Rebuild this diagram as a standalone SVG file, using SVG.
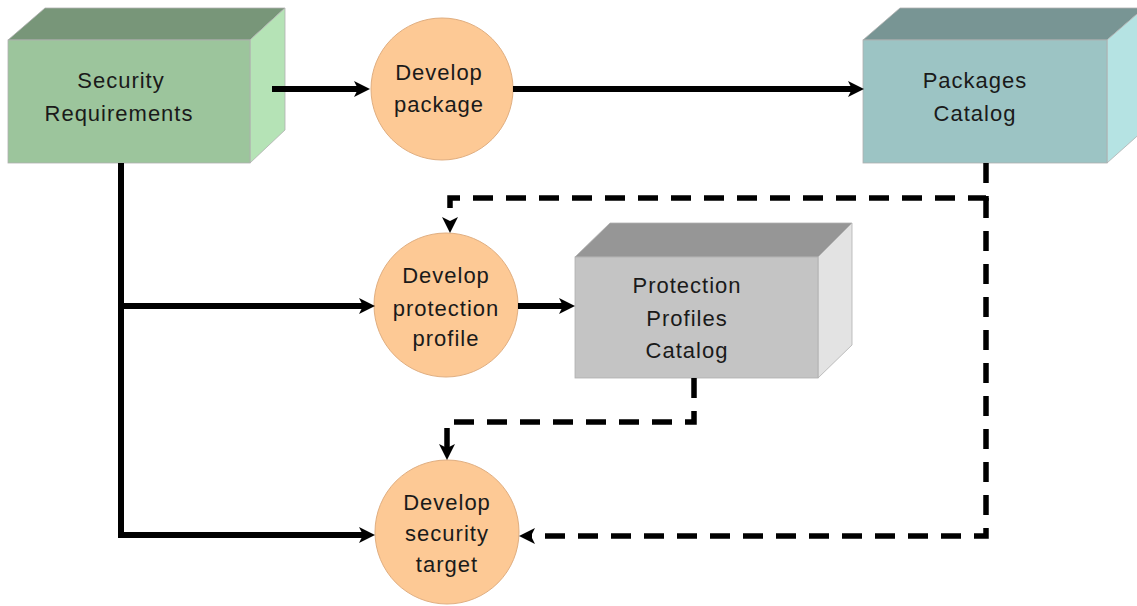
<svg xmlns="http://www.w3.org/2000/svg" width="1137" height="606" viewBox="0 0 1137 606">
  <style>
    .label { font-family: "Liberation Sans", Arial, sans-serif; font-size: 22px; fill: #1a1a1a; text-anchor: middle; letter-spacing: 1px; }
    .proc { fill: #FDC995; stroke: #E0AE80; stroke-width: 1; }
    .edge { fill: none; stroke: #000; stroke-width: 6; }
    .dash { stroke-width: 5.5; stroke-dasharray: 20 13; }
    .face { stroke: #b0b0b0; stroke-width: 0.8; }
  </style>
  <defs>
    <marker id="arrow" markerUnits="userSpaceOnUse" markerWidth="17" markerHeight="17" refX="7" refY="8" orient="auto">
      <path d="M0,0 L16,8 L0,16 L4,8 z" fill="#000"/>
    </marker>
  </defs>

  <rect width="1137" height="606" fill="#fff"/>

  <!-- Security Requirements store -->
  <g id="security-requirements">
    <polygon class="face" points="8,40 45,8 285,8 250,40" fill="#789679"/>
    <polygon class="face" points="250,40 285,8 285,130 250,163" fill="#B5E3B6"/>
    <rect class="face" x="8" y="40" width="242" height="123" fill="#9CC59C"/>
    <text class="label" x="121" y="88">Security</text>
    <text class="label" x="119" y="121">Requirements</text>
  </g>

  <!-- Packages Catalog store -->
  <g id="packages-catalog">
    <polygon class="face" points="863,40 900,8 1144,8 1107,40" fill="#789594"/>
    <polygon class="face" points="1107,40 1144,8 1144,130 1107,163" fill="#B5E3E3"/>
    <rect class="face" x="863" y="40" width="244" height="123" fill="#9CC4C4"/>
    <text class="label" x="975" y="88">Packages</text>
    <text class="label" x="975" y="121">Catalog</text>
  </g>

  <!-- Protection Profiles Catalog store -->
  <g id="protection-profiles-catalog">
    <polygon class="face" points="575,257 610,223 852,223 818,257" fill="#969696"/>
    <polygon class="face" points="818,257 852,223 852,345 818,378" fill="#E3E3E3"/>
    <rect class="face" x="575" y="257" width="243" height="121" fill="#C4C4C4"/>
    <text class="label" x="687" y="293">Protection</text>
    <text class="label" x="687" y="326">Profiles</text>
    <text class="label" x="687" y="358">Catalog</text>
  </g>

  <!-- Develop package process -->
  <g id="develop-package">
    <circle class="proc" cx="442" cy="89" r="71"/>
    <text class="label" x="439" y="80">Develop</text>
    <text class="label" x="439" y="112">package</text>
  </g>

  <!-- Develop protection profile process -->
  <g id="develop-protection-profile">
    <circle class="proc" cx="446" cy="305" r="72"/>
    <text class="label" x="446" y="283">Develop</text>
    <text class="label" x="446" y="316">protection</text>
    <text class="label" x="446" y="346">profile</text>
  </g>

  <!-- Develop security target process -->
  <g id="develop-security-target">
    <circle class="proc" cx="447" cy="532" r="72"/>
    <text class="label" x="447" y="510">Develop</text>
    <text class="label" x="447" y="541">security</text>
    <text class="label" x="447" y="572">target</text>
  </g>

  <!-- connectors, drawn over the store side faces -->
  <g id="connectors">
    <!-- Security Requirements -> Develop package -->
    <line class="edge" x1="272" y1="89" x2="361" y2="89" marker-end="url(#arrow)"/>
    <!-- Develop package -> Packages Catalog -->
    <line class="edge" x1="513" y1="89" x2="855" y2="89" marker-end="url(#arrow)"/>
    <!-- Security Requirements trunk -> Develop security target -->
    <polyline class="edge" points="121,163 121,535 366,535" marker-end="url(#arrow)"/>
    <!-- branch -> Develop protection profile -->
    <line class="edge" x1="121" y1="306" x2="366" y2="306" marker-end="url(#arrow)"/>
    <!-- Develop protection profile -> Protection Profiles Catalog -->
    <line class="edge" x1="518" y1="306" x2="566" y2="306" marker-end="url(#arrow)"/>
    <!-- Packages Catalog -> Develop protection profile (dashed) -->
    <polyline class="edge dash" points="986,163 986,198 450,198 450,224" marker-end="url(#arrow)"/>
    <!-- Packages Catalog -> Develop security target (dashed) -->
    <polyline class="edge dash" points="986,198 986,536 528,536" marker-end="url(#arrow)"/>
    <!-- Protection Profiles Catalog -> Develop security target (dashed) -->
    <polyline class="edge dash" points="694,378 694,422 447,422 447,451" marker-end="url(#arrow)"/>
  </g>
</svg>
